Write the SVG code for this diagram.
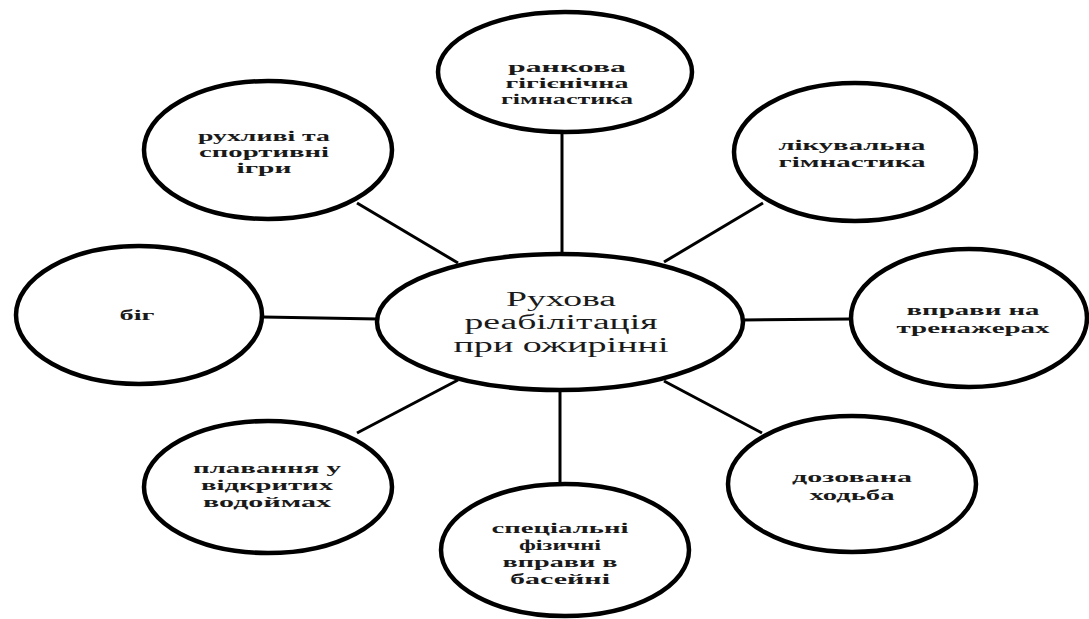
<svg xmlns="http://www.w3.org/2000/svg" width="1089" height="619" viewBox="0 0 1089 619">
<style>
.node{fill:#fff;stroke:#000;stroke-width:4.5}
.conn line{stroke:#000;stroke-width:3}
.t{font-family:"Liberation Serif","Times New Roman",serif;font-weight:bold;font-size:14px;fill:#1a1a1a;text-anchor:middle}
.c{font-family:"Liberation Serif","Times New Roman",serif;font-size:20px;fill:#1a1a1a;text-anchor:middle}
</style>
<rect width="1089" height="619" fill="#fff"/>
<g id="connectors" class="conn">
<line x1="562" y1="132" x2="562" y2="254"/>
<line x1="357" y1="203" x2="458" y2="263"/>
<line x1="763" y1="203" x2="664" y2="262"/>
<line x1="263" y1="317" x2="378" y2="319"/>
<line x1="742" y1="320" x2="851" y2="319"/>
<line x1="357" y1="433" x2="458" y2="380"/>
<line x1="762" y1="433" x2="664" y2="381"/>
<line x1="560" y1="391" x2="560" y2="484"/>
</g>
<g id="center">
<ellipse class="node" cx="560" cy="322" rx="183" ry="68"/>
<text class="c" x="561" y="306" textLength="110" lengthAdjust="spacingAndGlyphs">Рухова</text>
<text class="c" x="561" y="329" textLength="193" lengthAdjust="spacingAndGlyphs">реабілітація</text>
<text class="c" x="561" y="352" textLength="215" lengthAdjust="spacingAndGlyphs">при ожирінні</text>
</g>
<g id="n-rankova">
<ellipse class="node" cx="565" cy="72" rx="127" ry="60"/>
<text class="t" x="567" y="72" textLength="118" lengthAdjust="spacingAndGlyphs">ранкова</text>
<text class="t" x="567" y="88" textLength="123" lengthAdjust="spacingAndGlyphs">гігієнічна</text>
<text class="t" x="567" y="104" textLength="132" lengthAdjust="spacingAndGlyphs">гімнастика</text>
</g>
<g id="n-rukhlyvi">
<ellipse class="node" cx="268" cy="150" rx="124" ry="69"/>
<text class="t" x="264" y="141" textLength="132" lengthAdjust="spacingAndGlyphs">рухливі та</text>
<text class="t" x="264" y="157" textLength="130" lengthAdjust="spacingAndGlyphs">спортивні</text>
<text class="t" x="264" y="173" textLength="55" lengthAdjust="spacingAndGlyphs">ігри</text>
</g>
<g id="n-likuvalna">
<ellipse class="node" cx="855" cy="152" rx="121" ry="69"/>
<text class="t" x="852" y="150" textLength="147" lengthAdjust="spacingAndGlyphs">лікувальна</text>
<text class="t" x="852" y="167" textLength="147" lengthAdjust="spacingAndGlyphs">гімнастика</text>
</g>
<g id="n-bih">
<ellipse class="node" cx="139" cy="315" rx="123" ry="69"/>
<text class="t" x="137" y="320" textLength="35" lengthAdjust="spacingAndGlyphs">біг</text>
</g>
<g id="n-trenazhery">
<ellipse class="node" cx="969" cy="318" rx="118" ry="69"/>
<text class="t" x="973" y="315" textLength="133" lengthAdjust="spacingAndGlyphs">вправи на</text>
<text class="t" x="973" y="333" textLength="153" lengthAdjust="spacingAndGlyphs">тренажерах</text>
</g>
<g id="n-plavannia">
<ellipse class="node" cx="268" cy="487" rx="124" ry="66"/>
<text class="t" x="267" y="473" textLength="148" lengthAdjust="spacingAndGlyphs">плавання у</text>
<text class="t" x="267" y="490" textLength="132" lengthAdjust="spacingAndGlyphs">відкритих</text>
<text class="t" x="267" y="507" textLength="128" lengthAdjust="spacingAndGlyphs">водоймах</text>
</g>
<g id="n-khodba">
<ellipse class="node" cx="852" cy="484" rx="124" ry="68"/>
<text class="t" x="852" y="482" textLength="120" lengthAdjust="spacingAndGlyphs">дозована</text>
<text class="t" x="852" y="500" textLength="85" lengthAdjust="spacingAndGlyphs">ходьба</text>
</g>
<g id="n-baseyn">
<ellipse class="node" cx="565" cy="550" rx="124" ry="66"/>
<text class="t" x="560" y="533" textLength="137" lengthAdjust="spacingAndGlyphs">спеціальні</text>
<text class="t" x="560" y="550" textLength="82" lengthAdjust="spacingAndGlyphs">фізичні</text>
<text class="t" x="560" y="567" textLength="115" lengthAdjust="spacingAndGlyphs">вправи в</text>
<text class="t" x="560" y="584" textLength="100" lengthAdjust="spacingAndGlyphs">басейні</text>
</g>
</svg>
